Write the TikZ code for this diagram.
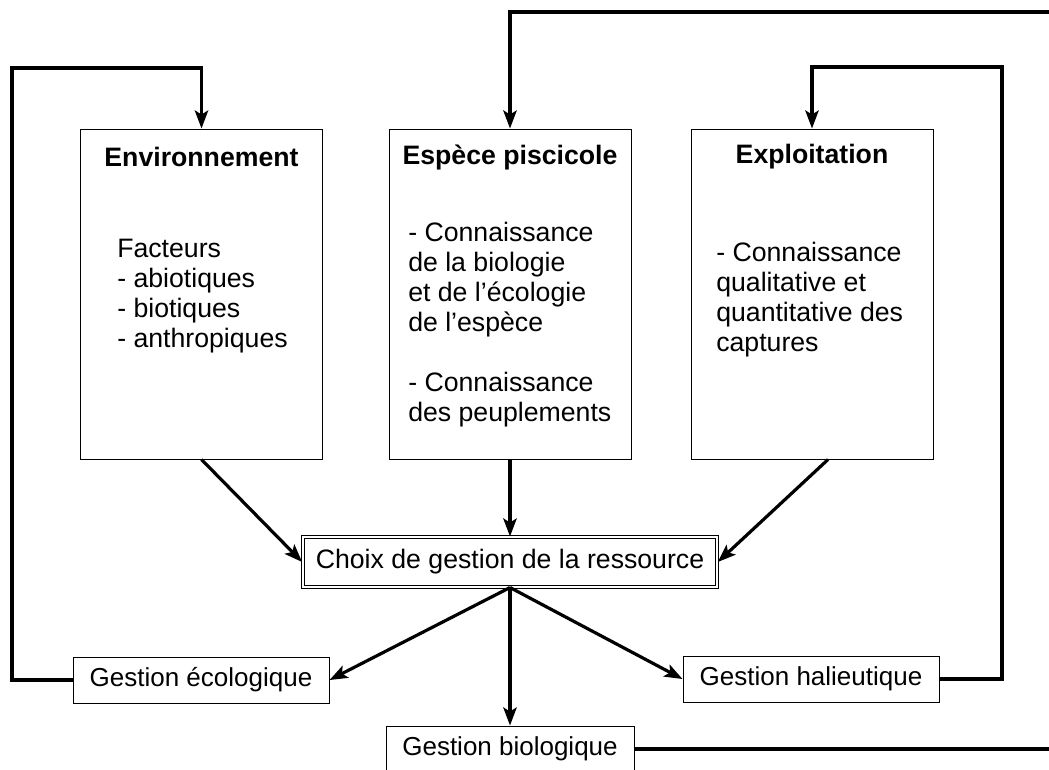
\documentclass[tikz,border=0pt]{standalone}
\usepackage{fontspec}
\setmainfont{Liberation Sans}
\usetikzlibrary{arrows.meta,positioning}

\begin{document}
\begin{tikzpicture}[x=0.75pt, y=-0.75pt,
    boite/.style={draw, line width=0.75pt, minimum width=181.5pt, minimum height=247.5pt, inner sep=0pt},
    titre/.style={font=\fontsize{20}{22.5}\selectfont\bfseries, inner sep=0pt},
    corps/.style={font=\fontsize{20}{22.5}\selectfont, align=left, anchor=north west, inner sep=0pt},
    choix/.style={draw, line width=0.75pt, double, double distance=1.6pt, minimum width=311pt, minimum height=37.5pt, font=\fontsize{20}{24}\selectfont},
    gestion/.style={draw, line width=0.75pt, minimum height=34.5pt, font=\fontsize{19.5}{23}\selectfont},
    fleche/.style={line width=2.4pt, -{Stealth[length=13.5pt, width=10pt, inset=3pt]}}]

    \useasboundingbox (0,0) rectangle (1049,769);
    \clip (0,0) rectangle (1049,769);

    \node[boite] (env) at (201.5,294) {};
    \node[boite] (esp) at (510,294) {};
    \node[boite] (exp) at (812,294) {};

    \node[titre] (envTitre) at (201.5,157) {Environnement};
    \node[titre] (espTitre) at (510,157) {Espèce piscicole};
    \node[titre] (expTitre) at (812,157) {Exploitation};

    \node[corps] (envCorps) at (117,239) {Facteurs\\- abiotiques\\- biotiques\\- anthropiques};
    \node[corps] (espCorps) at (408,222) {- Connaissance\\de la biologie\\et de l’écologie\\de l’espèce\\[22.5pt]- Connaissance\\des peuplements};
    \node[corps] (expCorps) at (716,242) {- Connaissance\\qualitative et\\quantitative des\\captures};

    \node[choix] (choix) at (510,562) {Choix de gestion de la ressource};

    \node[gestion, minimum width=192pt] (eco) at (201,680) {Gestion écologique};
    \node[gestion, minimum width=192pt] (hal) at (811,679) {Gestion halieutique};
    \node[gestion, minimum width=186pt] (bio) at (510,749) {Gestion biologique};

    \coordinate (retourG) at (12,68);
    \coordinate (retourD) at (1002,67);
    \coordinate (hors) at (1065,12);

    \draw[fleche] (env.south) -- (choix.west);
    \draw[fleche] (esp.south) -- (choix.north);
    \draw[fleche] ([xshift=12pt]exp.south) -- (choix.east);

    \draw[fleche] (choix.south) -- (eco.east);
    \draw[fleche] (choix.south) -- (bio.north);
    \draw[fleche] (choix.south) -- (hal.west);

    \draw[fleche] (eco.west) -| (retourG) -| (env.north);
    \draw[fleche] (hal.east) -| (retourD) -| (exp.north);
    \draw[fleche] (bio.east) -| (hors) -| (esp.north);

\end{tikzpicture}
\end{document}
